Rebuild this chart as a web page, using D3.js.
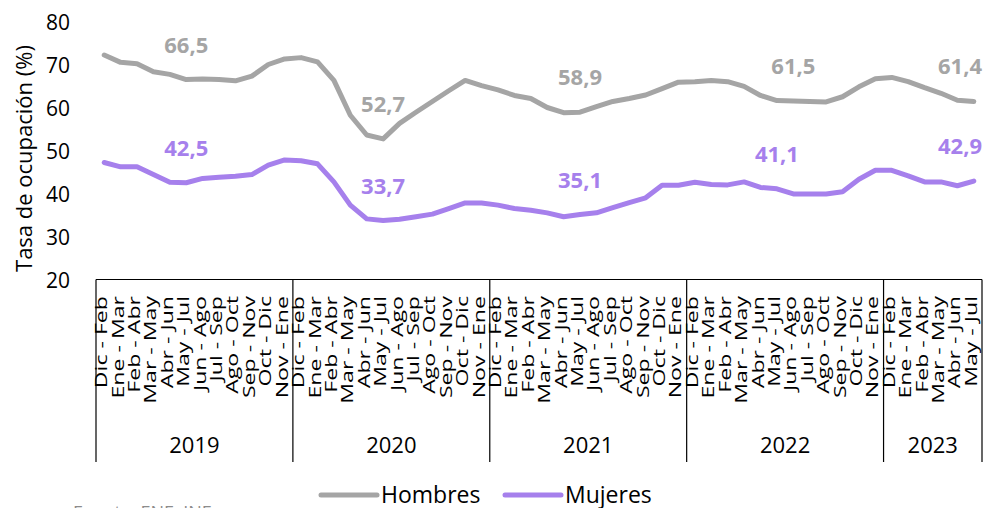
<!DOCTYPE html>
<html>
<head>
<meta charset="utf-8">
<script src="https://cdn.jsdelivr.net/npm/d3@7"></script>
<style>
  html, body { margin: 0; padding: 0; background: #fff; }
  svg { display: block; font-family: "Open Sans", "DejaVu Sans", sans-serif; }
</style>
</head>
<body>
<svg id="chart" width="984" height="508"></svg>
<script>
// ---- Data ----
const years = ["2019", "2020", "2021", "2022", "2023"];
const periodsPerYear = [12, 12, 12, 12, 6];
const periods = ["Dic - Feb", "Ene - Mar", "Feb - Abr", "Mar - May", "Abr - Jun", "May - Jul",
                 "Jun - Ago", "Jul - Sep", "Ago - Oct", "Sep - Nov", "Oct - Dic", "Nov - Ene"];
const hombres = [
  72.2, 70.5, 70.2, 68.3, 67.7, 66.5, 66.6, 66.5, 66.2, 67.3, 70.0, 71.3,
  71.6, 70.6, 66.3, 58.2, 53.6, 52.7, 56.3, 58.9, 61.4, 63.9, 66.3, 65.1,
  64.1, 62.8, 62.1, 60.0, 58.8, 58.9, 60.2, 61.4, 62.1, 62.9, 64.4, 65.9,
  66.0, 66.3, 66.0, 64.9, 62.8, 61.6, 61.5, 61.4, 61.3, 62.5, 64.8, 66.7,
  67.0, 66.0, 64.6, 63.3, 61.7, 61.4
];
const mujeres = [
  47.2, 46.2, 46.2, 44.4, 42.6, 42.5, 43.5, 43.8, 44.0, 44.4, 46.6, 47.8,
  47.6, 46.9, 42.7, 37.3, 34.1, 33.7, 34.0, 34.6, 35.2, 36.5, 37.8, 37.8,
  37.3, 36.5, 36.1, 35.5, 34.6, 35.1, 35.5, 36.7, 37.9, 39.0, 41.9, 41.9,
  42.6, 42.1, 42.0, 42.7, 41.4, 41.1, 39.9, 39.9, 39.9, 40.4, 43.3, 45.4,
  45.4, 44.1, 42.7, 42.7, 41.8, 42.9
];
const hombresLabelIdx = [5, 17, 29, 42, 53];
const mujeresLabelIdx = [5, 17, 29, 41, 53];
const yTicks = [20, 30, 40, 50, 60, 70, 80];
const seriesNames = ["Hombres", "Mujeres"];
const colors = ["#A5A5A5", "#A680EC"];

(function () {
// ---- Build categories ----
const cats = [];
years.forEach((yr, yi) => {
  for (let k = 0; k < periodsPerYear[yi]; k++) cats.push({ year: yr, label: periods[k] });
});
const N = cats.length;

// ---- Layout ----
const svg = d3.select("#chart");
const pLeft = 96, pRight = 982, pTop = 21.5, pBottom = 279.5, axisBottom = 462;

const x = d3.scaleBand().domain(d3.range(N)).range([pLeft, pRight]).padding(0);
const y = d3.scaleLinear().domain([20, 80]).range([pBottom, pTop]);
const xc = i => x(i) + x.bandwidth() / 2;

// Y axis tick labels (no line, no ticks)
const yAxis = d3.axisLeft(y).tickValues(yTicks).tickSize(0).tickPadding(0).tickFormat(d3.format("d"));
const gy = svg.append("g").attr("transform", "translate(70,0)").call(yAxis);
gy.select(".domain").remove();
gy.selectAll("text")
  .attr("font-family", "'Open Sans', sans-serif")
  .attr("font-size", 21).attr("fill", "#000").attr("dy", "0.36em");

// Y axis title
svg.append("text")
  .attr("transform", `translate(23,${(pTop + pBottom) / 2 + 8}) rotate(-90)`)
  .attr("text-anchor", "middle").attr("dominant-baseline", "central")
  .attr("font-size", 22).attr("fill", "#000")
  .text("Tasa de ocupación (%)");

// Category axis: top line
svg.append("line")
  .attr("x1", pLeft).attr("x2", pRight).attr("y1", pBottom).attr("y2", pBottom)
  .attr("stroke", "#000").attr("stroke-width", 1.2);

// Group boundaries
const bounds = [0];
periodsPerYear.reduce((acc, n) => { bounds.push(acc + n); return acc + n; }, 0);
const bx = b => b < N ? x(b) : pRight;
svg.selectAll("line.grp").data(bounds).enter().append("line")
  .attr("class", "grp")
  .attr("x1", bx).attr("x2", bx)
  .attr("y1", pBottom).attr("y2", axisBottom)
  .attr("stroke", "#000").attr("stroke-width", 1.2);

// Period labels (rotated)
svg.selectAll("text.cat").data(cats).enter().append("text")
  .attr("class", "cat")
  .attr("transform", (d, i) => `translate(${xc(i) + 3},296) rotate(-90) scale(1.36,1)`)
  .attr("text-anchor", "end")
  .attr("font-size", 17).attr("fill", "#000")
  .text(d => d.label);

// Year labels
years.forEach((yr, yi) => {
  const a = bx(bounds[yi]);
  const b = bx(bounds[yi + 1]);
  svg.append("text")
    .attr("x", (a + b) / 2).attr("y", 453)
    .attr("text-anchor", "middle").attr("font-size", 22).attr("fill", "#000")
    .text(yr);
});

// Lines
const line = d3.line().x((d, i) => xc(i)).y(d => y(d));
[hombres, mujeres].forEach((s, si) => {
  svg.append("path").datum(s)
    .attr("d", line).attr("fill", "none")
    .attr("stroke", colors[si]).attr("stroke-width", 5)
    .attr("stroke-linejoin", "round").attr("stroke-linecap", "round");
});

// Data labels
const fmt = v => d3.format(".1f")(v).replace(".", ",");
[[hombres, hombresLabelIdx], [mujeres, mujeresLabelIdx]].forEach(([s, idx], si) => {
  idx.forEach(i => {
    const t = svg.append("text")
      .attr("x", xc(i)).attr("y", y(s[i]) - 27)
      .attr("text-anchor", "middle").attr("font-size", 22).attr("font-weight", "bold")
      .attr("fill", colors[si]).text(fmt(s[i]));
    const w = t.node().getComputedTextLength();
    if (xc(i) + w / 2 > pRight) t.attr("x", pRight - w / 2);
  });
});

// Legend
const legX = [321, 505];
seriesNames.forEach((name, si) => {
  svg.append("line")
    .attr("x1", legX[si]).attr("x2", legX[si] + 56).attr("y1", 495).attr("y2", 495)
    .attr("stroke", colors[si]).attr("stroke-width", 5).attr("stroke-linecap", "round");
  svg.append("text")
    .attr("x", legX[si] + 60).attr("y", 502.5)
    .attr("font-size", 23).attr("fill", "#000").text(name);
});

// Source note (partially cut off at the bottom, as in the reference)
svg.append("text")
  .attr("x", 73).attr("y", 519)
  .attr("font-size", 18).attr("fill", "#8c8c8c")
  .text("Fuente: ENE, INE");
})();
</script>
</body>
</html>
